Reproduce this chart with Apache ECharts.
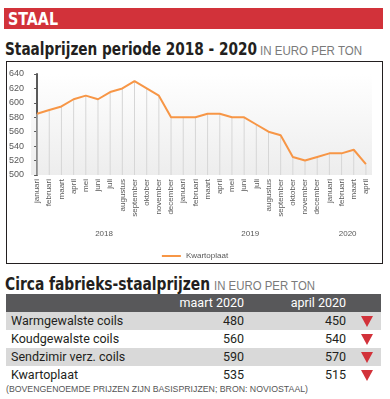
<!DOCTYPE html>
<html><head><meta charset="utf-8">
<script src="https://cdn.jsdelivr.net/npm/echarts@6/dist/echarts.min.js"></script>
<style>
html,body{margin:0;padding:0;background:#fff;width:390px;height:399px;overflow:hidden;position:relative;}
.abs{position:absolute;white-space:nowrap;transform-origin:0 0;}
#banner{left:4px;top:8px;width:379px;height:21px;background:#d2323a;}
.ban{color:#fff;font:bold 17px "DejaVu Sans Condensed","DejaVu Sans",sans-serif;line-height:17px;}
.h2{font:bold 18px "DejaVu Sans Condensed","DejaVu Sans",sans-serif;color:#231f20;line-height:18px;}
.sub{font:13px "Liberation Sans",sans-serif;color:#7a7a7a;line-height:13px;}
#box{left:6px;top:61px;width:375px;height:201px;border:1.5px solid #231f20;}
#chart{left:0;top:0;width:390px;height:270px;}
#tbl{left:6px;top:294px;width:375px;}
.row{position:relative;height:18px;font:12.5px Roboto,sans-serif;color:#231f20;}
.row .l{position:absolute;left:5px;top:1px;}
.row .a{position:absolute;right:137px;top:1px;}
.row .b{position:absolute;right:35px;top:1px;}
.row .t{position:absolute;left:355px;top:4px;width:0;height:0;border-left:6px solid transparent;border-right:6px solid transparent;border-top:11px solid #d2323a;}
#foot{left:6px;top:384px;font:8.5px "Liberation Sans",sans-serif;color:#555;line-height:10px;}
</style></head><body>
<div id="banner" class="abs"></div>
<div class="abs ban" style="left:8px;top:11px;" data-w="50" data-h="12">STAAL</div>
<div class="abs h2" style="left:5px;top:40px;" data-w="252" data-h="16">Staalprijzen periode 2018 - 2020</div>
<div class="abs sub" style="left:260px;top:44px;" data-w="102" data-h="11">IN EURO PER TON</div>
<div id="box" class="abs"></div>
<div id="chart" class="abs"></div>
<div class="abs h2" style="left:5px;top:275px;" data-w="205" data-h="17">Circa fabrieks-staalprijzen</div>
<div class="abs sub" style="left:214px;top:279px;" data-w="101" data-h="11">IN EURO PER TON</div>
<div id="tbl" class="abs"></div>
<div id="foot" class="abs" data-w="302" data-h="9">(BOVENGENOEMDE PRIJZEN ZIJN BASISPRIJZEN; BRON: NOVIOSTAAL)</div>
<script>
const months = ['januari','februari','maart','april','mei','juni','juli','augustus','september','oktober','november','december',
  'januari','februari','maart','april','mei','juni','juli','augustus','september','oktober','november','december',
  'januari','februari','maart','april'];
const kwartoplaat = [585,590,595,605,610,605,615,620,630,620,610,580,
  580,580,585,585,580,580,570,560,555,525,520,525,
  530,530,535,515];
const years = ['2018','2019','2020'];
const yearCenters = [5.5,17.5,25.5];
const yTicks = {min:500,max:640,interval:20};

const tableHeaders = ['maart 2020','april 2020'];
const products = ['Warmgewalste coils','Koudgewalste coils','Sendzimir verz. coils','Kwartoplaat'];
const priceMaart = [480,560,590,535];
const priceApril = [450,540,570,515];

// table
const tbl = document.getElementById('tbl');
let html = '<div class="row" style="background:#58585a;color:#fff;"><span class="a">'+tableHeaders[0]+'</span><span class="b">'+tableHeaders[1]+'</span></div>';
products.forEach((p,i)=>{
  const bg = i%2===0 ? '#d9d9d9' : '#fff';
  const down = priceApril[i] < priceMaart[i];
  html += '<div class="row" style="background:'+bg+'"><span class="l">'+p+'</span><span class="a">'+priceMaart[i]+'</span><span class="b">'+priceApril[i]+'</span>'+(down?'<span class="t"></span>':'')+'</div>';
});
tbl.innerHTML = html;

// fit text widths
document.querySelectorAll('[data-w]').forEach(el=>{
  const w = el.getBoundingClientRect().width;
  const target = parseFloat(el.dataset.w);
  el.style.transform = 'scaleX('+(target/w)+')';
});

const chart = echarts.init(document.getElementById('chart'), null, {renderer:'canvas'});
chart.setOption({
  animation:false,
  grid:{left:31,right:18,top:74,height:101,show:true,borderWidth:0,
    backgroundColor:{type:'linear',x:0,y:0,x2:0,y2:1,colorStops:[{offset:0,color:'#ffffff'},{offset:1,color:'#ededed'}]}},
  legend:{data:[{name:'Kwartoplaat',icon:'rect'}],left:'center',top:247,itemWidth:19,itemHeight:2,itemGap:4,
    textStyle:{fontSize:8,color:'#595959',fontFamily:'Liberation Sans, sans-serif'}},
  xAxis:[{
    type:'category',data:months,boundaryGap:true,
    axisLine:{show:false},axisTick:{show:false},
    axisLabel:{rotate:90,interval:0,fontSize:8,color:'#595959',margin:4,fontFamily:'Liberation Sans, sans-serif'}
  },{
    type:'value',min:-0.5,max:27.5,interval:0.5,position:'bottom',offset:51,
    axisLine:{show:false},axisTick:{show:false},splitLine:{show:false},
    axisLabel:{fontSize:8,color:'#595959',margin:4,fontFamily:'Liberation Sans, sans-serif',
      formatter:function(v){const k=yearCenters.findIndex(c=>Math.abs(c-v)<1e-6);return k>=0?years[k]:'';}}
  }],
  yAxis:{type:'value',min:yTicks.min,max:yTicks.max,interval:yTicks.interval,
    axisLine:{show:true,lineStyle:{color:'#595959',width:2}},
    axisTick:{show:true,length:3,lineStyle:{color:'#595959',width:1}},
    splitLine:{show:false},
    axisLabel:{fontSize:9,color:'#595959',margin:7,fontFamily:'Liberation Sans, sans-serif'}},
  series:[
    {name:'drop',type:'bar',data:kwartoplaat,barWidth:1,itemStyle:{color:'#d6d6d6'},silent:true,z:1},
    {name:'Kwartoplaat',type:'line',data:kwartoplaat,symbol:'none',lineStyle:{color:'#f79646',width:2},itemStyle:{color:'#f79646'},z:3}
  ]
});
</script>
</body></html>
